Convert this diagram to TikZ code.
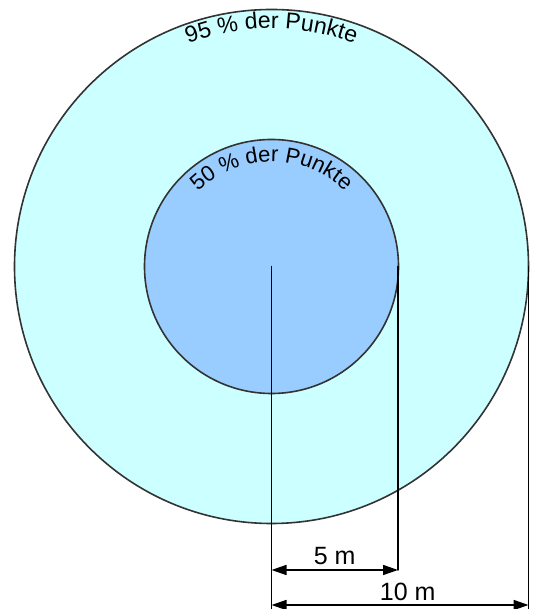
\documentclass[tikz,border=0pt]{standalone}
\usepackage{fontspec}
\setmainfont{Liberation Sans}
\usetikzlibrary{arrows.meta,decorations.text,calc}
\definecolor{ringfill}{RGB}{204,255,255}
\definecolor{corefill}{RGB}{153,204,255}

\begin{document}
\begin{tikzpicture}[x=1pt,y=1pt,line cap=round,line join=round,>={Triangle[length=15pt,width=10pt]}]
  \useasboundingbox (0,0) rectangle (534,609);
  \coordinate (O) at (271.5,342.5);
  \coordinate (R5) at (398,342.5);
  \coordinate (R10) at (528.5,342.5);
  \coordinate (O5) at (271.5,39);
  \coordinate (E5) at (398,39);
  \coordinate (O10) at (271.5,0);
  \coordinate (E10) at (528.5,0);
  \coordinate (A10) at (271.5,4);
  \coordinate (B10) at (528.5,4);

  \fill[ringfill] (O) circle (257);
  \draw[black!80,line width=1.6pt] (O) circle (257);
  \fill[corefill] (O) circle (127);
  \draw[black!80,line width=1.6pt] (O) circle (127);

  % curved labels
  \path[decorate,decoration={text along path,text align=center,
    text={|\fontsize{23}{25}\selectfont|95 {\%} der Punkte}}]
    ($(O)+(165:238)$) arc[start angle=165,end angle=15,radius=238];
  \path[decorate,decoration={text along path,text align=center,
    text={|\fontsize{22}{24}\selectfont|50 {\%} der Punkte}}]
    ($(O)+(178:105)$) arc[start angle=178,end angle=2,radius=105];

  \draw[line width=1.5pt] (O) -- (O10);
  \draw[line width=1.5pt] (R5) -- (E5);
  \draw[line width=1.5pt] (R10) -- (E10);

  \draw[<->,line width=1.5pt] (O5) -- (E5)
    node[midway,above=1pt,font=\fontsize{25}{27}\selectfont] (l5) {5 m};
  \draw[<->,line width=1.5pt] (A10) -- (B10)
    node[pos=.53,above=0pt,font=\fontsize{25}{27}\selectfont] (l10) {10 m};
\end{tikzpicture}
\end{document}
